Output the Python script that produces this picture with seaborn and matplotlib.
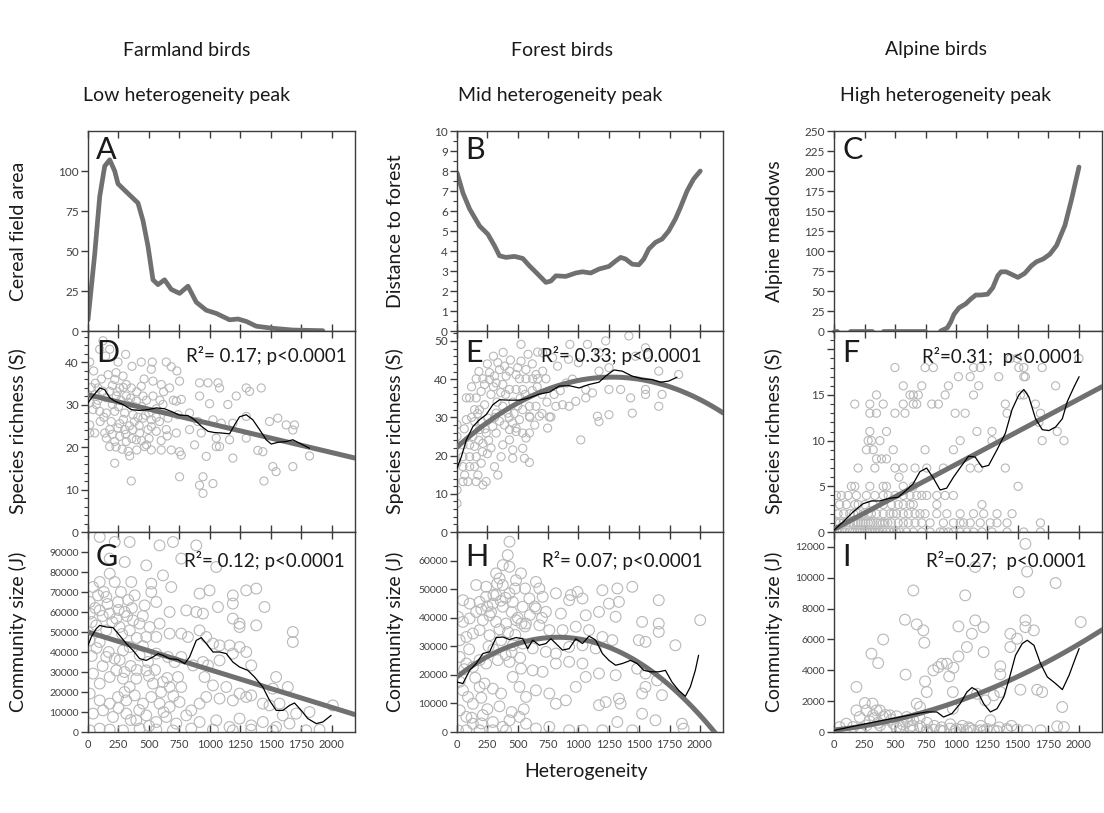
import numpy as np
import matplotlib
matplotlib.use("Agg")
import matplotlib.pyplot as plt
import seaborn as sns
from matplotlib.ticker import MultipleLocator, FixedLocator

# ---------------- data ----------------
col_titles = ["Farmland birds", "Forest birds", "Alpine birds"]
col_subtitles = ["Low heterogeneity peak", "Mid heterogeneity peak", "High heterogeneity peak"]
panel_letters = ["A", "B", "C", "D", "E", "F", "G", "H", "I"]
top_ylabels = ["Cereal field area", "Distance to forest", "Alpine meadows"]
stats = ["R\u00b2= 0.17; p<0.0001", "R\u00b2= 0.33; p<0.0001", "R\u00b2=0.31;  p<0.0001",
         "R\u00b2= 0.12; p<0.0001", "R\u00b2= 0.07; p<0.0001", "R\u00b2=0.27;  p<0.0001"]
xticks = [0, 250, 500, 750, 1000, 1250, 1500, 1750, 2000]

# Panel A: cereal field area
A_x = [0, 55, 96, 137, 178, 219, 246, 300, 355, 410, 451, 492, 533, 574, 628, 683, 751, 820,
       888, 970, 1052, 1161, 1230, 1298, 1380, 1516, 1680, 1926]
A_y = [7, 48, 84, 103, 107, 100, 92, 88, 84, 80, 69, 53, 32, 29, 32, 26, 23.5, 28,
       18, 13, 11, 7, 7.5, 6, 3, 1.7, 0.6, 0.2]

# Panel B: distance to forest
B_x = [0, 49, 104, 186, 254, 309, 350, 404, 473, 541, 596, 664, 732, 773, 814, 896, 978, 1033,
       1101, 1170, 1251, 1306, 1347, 1388, 1443, 1497, 1538, 1579, 1634, 1689, 1743, 1798, 1839,
       1894, 1948, 2003]
B_y = [7.92, 6.9, 6.1, 5.25, 4.84, 4.26, 3.76, 3.68, 3.73, 3.63, 3.26, 2.85, 2.43, 2.5, 2.76,
       2.73, 2.9, 2.96, 2.9, 3.1, 3.23, 3.5, 3.68, 3.6, 3.34, 3.31, 3.6, 4.1, 4.43, 4.6, 5.0,
       5.6, 6.17, 7.0, 7.6, 8.0]

# Panel C: alpine meadows (gaps where no data)
C_x = [0, 25, 129, 308, 404, 747, 871, 926, 953, 981, 1022, 1077, 1118, 1159, 1200, 1255,
       1297, 1338, 1365, 1407, 1462, 1503, 1558, 1613, 1654, 1709, 1764, 1819, 1887, 1942, 2002]
C_y = [0, 0, 0, 0, 0, 0, 0, 4, 11, 21, 29, 34, 40, 45, 45, 46,
       54, 69, 74, 74, 70, 67, 72, 81.5, 86.5, 90, 96, 107, 132, 165, 205]
C_seg = [0, 0, 1, 1, 2, 2, 3, 3, 3, 3, 3, 3, 3, 3, 3, 3,
         3, 3, 3, 3, 3, 3, 3, 3, 3, 3, 3, 3, 3, 3, 3]

# Panel D: farmland species richness
D_pts = [(14, 40), (46, 37.9), (96, 43), (123, 45), (178, 43), (145, 41.4), (309, 41.8), (246, 40),
         (437, 40), (527, 40), (642, 40), (683, 38.9), (729, 37.9), (519, 38.3), (361, 39),
         (287, 36.7), (219, 35.9), (82, 33.9), (55, 32.3), (123, 33.1), (178, 33.1), (259, 33.9),
         (314, 34.7), (355, 33.9), (437, 34.3), (533, 35.5), (601, 34.7), (669, 33.9), (751, 35.5),
         (915, 35.1), (984, 35.1), (1066, 35.1), (1079, 33.9), (1298, 33.9), (1325, 33.1),
         (1421, 33.9), (1216, 32.0), (1147, 30), (997, 30.2), (915, 32), (765, 31.2), (724, 30.8),
         (615, 30), (533, 32), (451, 32), (396, 30.8), (314, 32), (232, 32), (150, 31.6), (68, 30),
         (14, 30.4), (41, 28.8), (96, 28.4), (150, 28), (219, 28.4), (301, 28), (369, 27.6),
         (451, 26.8), (519, 26.4), (587, 26), (656, 26.8), (738, 27.6), (833, 28), (902, 26),
         (1025, 26.4), (1093, 25.6), (1188, 25.6), (1298, 27.2), (1489, 26), (1557, 26.8),
         (1626, 25.2), (1680, 24), (1694, 25.2), (14, 25.2), (55, 23.3), (137, 23.3), (178, 24.1),
         (246, 24.5), (301, 24.1), (369, 24.1), (423, 23.3), (492, 24.1), (560, 23.7), (642, 24.1),
         (724, 23.3), (833, 24.1), (929, 23.3), (1052, 22.1), (1161, 21.7), (1298, 22.1),
         (14, 23.3), (150, 22.1), (219, 21.3), (314, 21.3), (396, 21.7), (464, 20.1), (519, 19.3),
         (601, 19.3), (683, 19.3), (751, 18.9), (765, 18.1), (874, 20.5), (970, 17.8), (1052, 20.1),
         (1079, 20.1), (1188, 17.4), (1393, 19.2), (1434, 18.9), (1817, 17.9), (178, 20.1),
         (342, 17.9), (219, 16.2), (1516, 15.4), (1543, 14.2), (1680, 15.4), (751, 13), (355, 12),
         (943, 13), (1025, 11.4), (915, 11), (1443, 12), (943, 9.1),
         (28, 34), (60, 35), (110, 36), (165, 37), (200, 34.5), (240, 33), (270, 31), (330, 30.5),
         (380, 29.5), (410, 27), (440, 29.5), (480, 31), (500, 28), (560, 29), (590, 31), (620, 33),
         (700, 31), (100, 26), (130, 27), (190, 26), (260, 25.5), (290, 26.5), (340, 25), (380, 26),
         (420, 25), (470, 27.5), (520, 24.8), (560, 27), (200, 23), (260, 22.5), (310, 23),
         (360, 22), (440, 21.5), (500, 22), (600, 21.5), (650, 22.6), (230, 20), (280, 19.5),
         (330, 19), (400, 19.3), (480, 20.5), (80, 31), (200, 30), (250, 29.5), (350, 31.5),
         (290, 34), (230, 37.5), (400, 33), (460, 36)]
D_fit_x = [0, 2190]
D_fit_y = [32.3, 17.4]
D_smooth_x = [0, 41, 96, 137, 178, 219, 287, 355, 423, 492, 560, 628, 697, 751, 820, 874, 929,
              984, 1038, 1093, 1161, 1202, 1243, 1298, 1352, 1407, 1462, 1503, 1557, 1626, 1680,
              1735, 1817]
D_smooth_y = [30.4, 32, 33.9, 33.5, 31.6, 30.8, 30, 28.8, 28.6, 28.8, 29.2, 29, 28.2, 27.5, 27.4,
              26.4, 24.9, 23.7, 23.4, 23.3, 23.1, 25.2, 27.1, 27.6, 26.4, 24.1, 21.7, 20.7, 21.1,
              21.3, 21.7, 20.9, 19.7]

# Panel E: forest species richness
E_pts = [(0, 28.1), (0, 25), (0, 22.8), (0, 18), (0, 11), (0, 7.5), (49, 22.8), (49, 19.7),
         (49, 17.1), (63, 14.9), (49, 13.2), (90, 13.2), (104, 17.1), (104, 19.7), (77, 29.4),
         (77, 35.1), (104, 35.1), (158, 35.1), (145, 32), (186, 32), (145, 28.9), (186, 26.8),
         (131, 25), (104, 22.8), (145, 22.4), (158, 19.7), (145, 17.1), (199, 18), (158, 13.2),
         (213, 12.3), (240, 13.2), (172, 14.9), (213, 23.2), (240, 25.9), (254, 29.8), (227, 33.3),
         (199, 36.8), (158, 40.1), (213, 40.1), (227, 38.6), (268, 39.9), (268, 41.7), (309, 40.8),
         (350, 42.5), (336, 44.3), (391, 43.4), (432, 42.1), (404, 40.8), (322, 39), (377, 38.6),
         (432, 37.3), (486, 37.3), (541, 37.3), (514, 40.1), (568, 40.1), (623, 40.1), (664, 40.1),
         (732, 40.1), (486, 41.2), (527, 44.7), (568, 42.5), (650, 41.2), (705, 42.1), (527, 49.1),
         (585, 46.5), (664, 47.1), (705, 46.9), (787, 45.6), (828, 43.4), (918, 45.2), (929, 49.1),
         (1000, 44.3), (1074, 49.1), (1169, 46.9), (1169, 42.1), (1224, 50), (1251, 43),
         (1251, 37.3), (1415, 51.3), (1470, 46), (1552, 48.2), (1565, 46.5), (1552, 37.3),
         (1552, 36), (1661, 42.1), (1688, 36), (1661, 32.9), (1825, 41.2), (1429, 35.1),
         (1443, 31.1), (1347, 37.3), (1251, 30.7), (1156, 30.3), (1169, 28.9), (1060, 35.1),
         (1060, 37.3), (978, 34.2), (923, 32.9), (869, 33.3), (814, 32.9), (760, 30.1), (773, 30.1),
         (746, 27.2), (678, 30.3), (650, 32.9), (596, 32.9), (596, 30.3), (541, 32), (514, 29.4),
         (486, 27.2), (541, 25.9), (596, 25.9), (568, 24.6), (541, 21.9), (486, 26.3), (459, 28.5),
         (432, 26.8), (418, 31.1), (377, 32.9), (322, 31.1), (295, 27.6), (322, 25.9), (377, 22.8),
         (432, 24.1), (363, 19.7), (459, 21.5), (459, 19.3), (555, 19.3), (596, 18.2), (309, 17.1),
         (336, 14.9), (1019, 24.1), (1115, 36.4),
         (60, 27), (120, 30), (170, 31), (200, 29), (230, 27), (260, 24), (280, 36), (300, 38),
         (330, 34), (360, 36.5), (400, 36), (460, 34), (520, 35), (560, 36), (620, 37), (660, 38),
         (700, 36), (740, 34), (800, 36), (850, 37), (900, 39), (950, 40), (180, 24), (210, 21),
         (250, 20.5), (280, 22), (310, 30), (350, 29), (390, 28), (430, 30), (470, 31), (500, 33),
         (600, 30), (640, 28), (700, 31), (120, 38), (180, 42), (250, 44), (300, 46), (380, 47),
         (440, 45), (500, 43), (620, 44)]
E_fit_x = [0, 240, 514, 787, 1060, 1306, 1606, 1880, 2190]
E_fit_y = [22.8, 27.6, 33.8, 38.2, 40.1, 40.4, 39.5, 36.4, 31.1]
E_smooth_x = [0, 36, 77, 131, 186, 240, 295, 350, 432, 514, 596, 678, 760, 842, 923, 1005, 1087,
              1169, 1224, 1292, 1360, 1442, 1524, 1606, 1675, 1743, 1811]
E_smooth_y = [16.7, 19.7, 24.1, 27.6, 29.4, 30.7, 33.3, 34.6, 34.5, 34.5, 35.1, 36.1, 36.6, 38.2,
              38.3, 37.7, 38.6, 39.2, 40.8, 42.4, 42.1, 40.8, 40.1, 39.9, 39.2, 39.5, 40.5]

# Panel F: alpine species richness (integer counts)
F_x = [46, 88, 129, 170, 211, 252, 293, 334, 375, 429, 484, 539, 593, 648, 717, 785, 867, 894, 935,
       976, 1031, 1086, 1140, 1209, 1291, 1414, 1551, 1687, 25, 66, 150, 190, 230, 270, 312, 355,
       400, 455, 510,
       19, 46, 101, 156, 197, 238, 279, 320, 375, 416, 470, 525, 566, 607, 662, 717, 785, 894, 976,
       1031, 1058, 1113, 1195, 1277, 1332, 1414, 1687, 75, 130, 180, 220, 260, 300, 350, 395, 440,
       33, 129, 197, 238, 306, 347, 402, 457, 484, 511, 566, 607, 662, 703, 744, 840, 922, 1031,
       1140, 1223, 1332, 1455, 80, 160, 280,
       46, 101, 170, 197, 252, 320, 402, 470, 525, 566, 621, 648, 840, 1209,
       19, 60, 115, 183, 265, 334, 402, 443, 498, 566, 621, 676, 717, 758, 840, 908, 976,
       142, 170, 293, 402, 429, 566, 648, 1504,
       531,
       197, 334, 498, 566, 662, 758, 894, 1113, 1182, 1400,
       347, 388, 429,
       265, 320, 484, 744, 976,
       279, 306, 375, 1031, 1291, 1701, 1879,
       293, 429, 1168, 1291, 1824,
       1674,
       293, 347, 498, 580, 990, 1072, 1414, 1687,
       170, 293, 402, 566, 648, 676, 799, 853, 1400, 1646,
       347, 621, 648, 689, 908, 1140, 1523, 1551,
       566, 717, 935, 1182, 1811,
       1017, 1113, 1346, 1551, 1564,
       498, 744, 812, 1140, 1195, 1510, 1551, 1701,
       1441, 1496, 2002]
F_y = ([0] * 39 + [1] * 36 + [2] * 25 + [3] * 14 + [4] * 17 + [5] * 8 + [6] * 1 + [7] * 10
       + [8] * 3 + [9] * 5 + [10] * 7 + [11] * 5 + [12] * 1 + [13] * 8 + [14] * 10 + [15] * 8
       + [16] * 5 + [17] * 5 + [18] * 8 + [19] * 3)
F_fit_x = [0, 2190]
F_fit_y = [0.3, 15.9]
F_smooth_x = [0, 74, 156, 238, 306, 374, 456, 525, 593, 648, 702, 757, 812, 867, 921, 976, 1045,
              1100, 1154, 1209, 1264, 1332, 1400, 1455, 1510, 1551, 1592, 1647, 1702, 1756, 1811,
              1866, 1907, 1962, 2003]
F_smooth_y = [0.2, 1.1, 2.2, 3.1, 3.4, 3.4, 3.7, 3.8, 4.6, 5.3, 6.6, 7.0, 5.9, 4.6, 4.8, 6.0, 7.3,
              8.3, 8.2, 7.1, 7.3, 9.0, 10.8, 13.4, 15.0, 15.6, 14.8, 12.4, 11.2, 11.1, 11.5, 12.4,
              14.3, 15.9, 17.0]

# Panel G: farmland community size
G_pts = [(96, 97500), (219, 95000), (342, 95000), (697, 95000), (888, 93300), (587, 93300),
         (178, 86700), (301, 85000), (478, 83300), (765, 86700), (1052, 82500), (615, 78300),
         (178, 79200), (96, 75000), (41, 72500), (219, 75000), (355, 75000), (519, 74200),
         (519, 70000), (683, 72500), (997, 70800), (1298, 70800), (1380, 71700), (1188, 68300),
         (915, 69200), (383, 68300), (82, 68300), (150, 67500), (246, 65000), (14, 65000),
         (464, 63300), (560, 65000), (1188, 64200), (669, 60000), (806, 60800), (888, 60000),
         (943, 59200), (1066, 62500), (1188, 56700), (1243, 54200), (1243, 52500), (1448, 62500),
         (1380, 53300), (1680, 50000), (1680, 45000), (14, 59200), (96, 60800), (178, 59200),
         (232, 56700), (301, 60000), (369, 55800), (68, 53300), (150, 50800), (259, 52500),
         (342, 50800), (423, 54200), (505, 52500), (587, 54200), (478, 47500), (560, 47500),
         (669, 49200), (765, 49200), (820, 47500), (915, 50800), (970, 47500), (1025, 44200),
         (1079, 43300), (1161, 43300), (1243, 42500), (1298, 40000), (14, 45800), (96, 45000),
         (150, 37500), (219, 36700), (287, 40800), (342, 42500), (423, 38300), (492, 35000),
         (560, 39200), (656, 37500), (710, 35000), (765, 37500), (861, 33300), (943, 35000),
         (984, 33300), (1079, 35800), (1188, 39200), (1339, 33300), (41, 29200), (96, 24200),
         (178, 27500), (232, 30800), (287, 26700), (342, 22500), (396, 26700), (478, 30800),
         (533, 24200), (615, 25000), (669, 22500), (738, 27500), (765, 22500), (956, 27500),
         (1025, 23300), (1134, 22500), (1243, 19200), (1339, 18300), (1543, 27500), (1516, 21700),
         (1639, 22500), (1571, 14200), (14, 19200), (96, 15800), (178, 14200), (246, 17500),
         (314, 15800), (383, 18300), (451, 14200), (519, 17500), (587, 14200), (669, 12500),
         (751, 15000), (847, 10800), (915, 14200), (970, 17500), (1079, 16700), (1188, 15800),
         (1298, 17500), (1434, 14200), (1489, 13300), (1598, 8300), (1707, 9200), (1817, 10000),
         (2008, 13300), (41, 9200), (123, 10800), (205, 7500), (314, 9200), (396, 5800),
         (478, 8300), (560, 5000), (642, 7500), (724, 4200), (806, 8300), (915, 5000),
         (1052, 5800), (1161, 2500), (1243, 6700), (1339, 3300), (1434, 5000), (1543, 2500),
         (1653, 4200), (1789, 800), (1899, 1200), (14, 800), (96, 1700), (178, 1200), (287, 800),
         (423, 1700), (560, 1200), (697, 800), (847, 1700), (1025, 1200), (1188, 800),
         (1339, 1200), (1516, 800),
         (30, 55000), (60, 62000), (120, 58000), (160, 64000), (200, 55000), (250, 61000),
         (280, 49000), (320, 58000), (360, 62000), (400, 47000), (450, 58000), (30, 38000),
         (70, 42000), (120, 33000), (170, 40000), (260, 36000), (300, 30000), (350, 33000),
         (400, 31000), (450, 43000), (500, 28000), (550, 31000), (600, 20000), (650, 27000),
         (700, 18000), (250, 12000), (300, 20000), (350, 6000), (420, 11000), (500, 3000),
         (620, 10000), (130, 70000), (270, 70000), (330, 66000)]
G_fit_x = [0, 2190]
G_fit_y = [50000, 8700]
G_smooth_x = [0, 27, 68, 96, 150, 205, 259, 314, 369, 423, 478, 533, 574, 615, 669, 738, 793, 833,
              888, 929, 970, 1025, 1079, 1134, 1188, 1243, 1311, 1366, 1434, 1489, 1544, 1598, 1653,
              1694, 1749, 1803, 1872, 1926, 1994]
G_smooth_y = [43300, 47500, 51700, 53300, 52500, 52200, 48300, 44200, 40800, 36700, 35800, 37500,
              39200, 38300, 36700, 36200, 34200, 37500, 45800, 47200, 44200, 40000, 40000, 39200,
              35000, 32500, 30800, 27500, 22500, 15800, 10800, 10800, 13300, 14500, 10800, 6700,
              4200, 5000, 8300]

# Panel H: forest community size
H_pts = [(432, 66700), (418, 62000), (377, 58500), (432, 57900), (322, 55600), (527, 55600),
         (350, 53800), (486, 53200), (377, 51500), (158, 51500), (240, 50900), (478, 50300),
         (560, 50300), (650, 52600), (678, 50300), (814, 48600), (937, 48000), (992, 49100),
         (1197, 49700), (1320, 50300), (1443, 50900), (1661, 46200), (1333, 45600), (1033, 46800),
         (923, 46200), (705, 47400), (596, 46800), (432, 48600), (322, 48000), (240, 47400),
         (186, 45600), (104, 45000), (49, 46200), (295, 45000), (377, 43900), (459, 45600),
         (541, 43900), (650, 43300), (732, 42100), (855, 41500), (1060, 40900), (1169, 42100),
         (1251, 45000), (1306, 40400), (1524, 38600), (1661, 38000), (1661, 35100), (2002, 39200),
         (8, 40400), (49, 38600), (104, 39800), (158, 42100), (213, 39200), (268, 40900),
         (322, 38600), (404, 38000), (486, 39200), (568, 38000), (678, 37400), (760, 35700),
         (869, 35700), (978, 36900), (1087, 35700), (1197, 33300), (1279, 32200), (1497, 32200),
         (1552, 31600), (1798, 30400), (22, 32200), (77, 33300), (131, 34500), (186, 35700),
         (268, 33900), (363, 32200), (459, 30400), (541, 31000), (623, 29300), (732, 28100),
         (814, 27500), (923, 29800), (1033, 30400), (1142, 29300), (22, 26300), (77, 24000),
         (131, 22800), (186, 25200), (240, 24000), (336, 25200), (432, 24600), (527, 22200),
         (623, 21600), (705, 21100), (814, 24000), (923, 24600), (1033, 24000), (1169, 20500),
         (1306, 19900), (1483, 22200), (1552, 20500), (1647, 18100), (22, 17600), (49, 14600),
         (90, 12300), (131, 9900), (186, 15800), (227, 17000), (295, 15200), (363, 13500),
         (459, 19300), (514, 15800), (568, 12300), (650, 14600), (760, 13500), (814, 9900),
         (896, 11100), (978, 15800), (1060, 19300), (1169, 9400), (1224, 10500), (1333, 11700),
         (1347, 9900), (1524, 13500), (1552, 15800), (1688, 12900), (22, 7600), (77, 5300),
         (131, 2900), (213, 5900), (295, 3500), (377, 1800), (432, 4100), (514, 5300), (568, 2900),
         (650, 1200), (760, 1800), (923, 600), (1033, 600), (1197, 600), (1320, 3500), (1443, 600),
         (1524, 6400), (1634, 4100), (1852, 2900), (1866, 1200), (8, 600), (77, 600), (186, 600),
         (295, 600), (404, 600),
         (200, 43000), (250, 44000), (280, 42000), (300, 48000), (330, 52000), (360, 46000),
         (400, 47000), (450, 42000), (500, 40000), (530, 38000), (350, 36000), (420, 35000),
         (480, 34000), (560, 37000), (600, 41000), (640, 44000), (700, 40000), (260, 30000),
         (300, 29000), (400, 27000), (450, 28000), (520, 26000), (100, 29000), (60, 22000),
         (150, 19000), (200, 12000), (250, 8000), (350, 9000), (450, 7000), (550, 8000),
         (120, 5000), (200, 3000)]
H_fit_x = [0, 240, 514, 814, 1060, 1333, 1606, 1880, 2126]
H_fit_y = [19900, 25700, 30400, 33300, 32700, 28700, 21100, 10500, 0]
H_smooth_x = [0, 49, 104, 158, 213, 268, 322, 377, 432, 486, 541, 582, 623, 678, 732, 773, 814,
              869, 923, 978, 1033, 1087, 1142, 1197, 1251, 1306, 1361, 1429, 1483, 1538, 1593,
              1661, 1716, 1770, 1825, 1880, 1921, 1962, 1989]
H_smooth_y = [17500, 17000, 21600, 24000, 27500, 28100, 33100, 33300, 32400, 33100, 32700, 29200,
              32200, 30400, 31000, 32700, 31000, 28700, 29200, 32700, 31000, 33600, 32200, 27500,
              25100, 23400, 24000, 25100, 24000, 21600, 21100, 21100, 21600, 17500, 14600, 12500,
              15800, 21600, 26900]

# Panel I: alpine community size
I_pts = [(1564, 12200), (1154, 10700), (1578, 10400), (1072, 8860), (648, 9180), (1811, 9660),
         (1510, 9070), (580, 7280), (676, 6980), (730, 6590), (1154, 7240), (1222, 6800),
         (1017, 6850), (1127, 6370), (1564, 7240), (1564, 6800), (1633, 6590), (2016, 7130),
         (1441, 6370), (1496, 6050), (1441, 5510), (1086, 5510), (1017, 4900), (1222, 5180),
         (402, 6000), (306, 5080), (361, 4470), (585, 3720), (738, 5790), (881, 4430), (922, 4430),
         (976, 4170), (853, 4210), (812, 4000), (941, 3610), (1359, 4260), (1359, 3740),
         (744, 3280), (758, 2590), (971, 2590), (1168, 2480), (1305, 2380), (1359, 2590),
         (1523, 2740), (1660, 2740), (1701, 2590), (1865, 1620), (971, 1510), (1236, 2050),
         (676, 1840), (703, 1620), (252, 1880), (315, 1840), (265, 1400), (347, 1400), (375, 1400),
         (320, 1080), (402, 970), (457, 1080), (511, 1020), (594, 970), (648, 760), (183, 2920),
         (183, 1400), (210, 970), (101, 540), (46, 320), (156, 320), (265, 430), (375, 430),
         (484, 540), (539, 320), (621, 320), (703, 370), (758, 150), (867, 110), (949, 220),
         (1031, 150), (1113, 220), (1195, 110), (1277, 760), (1305, 110), (1414, 110), (1496, 150),
         (1578, 110), (1688, 110), (1824, 370), (1879, 320), (429, 110), (539, 60), (648, 110),
         (758, 20), (812, 150), (894, 60), (990, 60), (1086, 60), (1140, 110), (1222, 60),
         (1332, 60), (1414, 200),
         (220, 200), (290, 700), (330, 900), (360, 600), (420, 1100), (470, 800), (510, 300),
         (560, 500), (600, 700), (640, 400), (700, 900), (760, 600), (820, 400), (880, 300),
         (950, 500), (1000, 200), (1050, 400), (1100, 300), (1200, 400), (1250, 200), (1350, 300),
         (1450, 400)]
I_fit_x = [0, 320, 594, 867, 1141, 1414, 1688, 1962, 2190]
I_fit_y = [100, 540, 970, 1620, 2380, 3240, 4320, 5510, 6640]
I_smooth_x = [0, 129, 265, 402, 539, 676, 758, 840, 895, 963, 1031, 1086, 1127, 1168, 1223, 1278,
              1332, 1387, 1428, 1483, 1538, 1579, 1634, 1688, 1743, 1811, 1866, 1921, 1976, 2003]
I_smooth_y = [100, 320, 540, 760, 970, 1190, 1300, 1300, 970, 1190, 1840, 2590, 2880, 2700, 1840,
              1300, 1510, 2270, 3350, 4970, 5730, 5950, 5620, 4430, 3570, 3140, 2750, 3680, 4860,
              5410]

# ---------------- style ----------------
sns.set_theme(style="ticks")
plt.rcParams["font.family"] = ["Lato", "DejaVu Sans"]
plt.rcParams["axes.linewidth"] = 1.0
plt.rcParams["axes.edgecolor"] = "#3c3c3c"

LINE_GREY = "#707070"
PT_GREY = "#b8b8b8"
TICK_COL = "#404040"

W, H = 1104, 813
fig = plt.figure(figsize=(W / 100, H / 100), dpi=100)
fig.patch.set_facecolor("white")
lefts = [88, 457, 834]
widths = [267, 266, 268]
tops = [131, 331, 532]
heights = [200, 201, 200]
axes = [[fig.add_axes([l / W, 1 - (t + h) / H, w / W, h / H]) for l, w in zip(lefts, widths)]
        for t, h in zip(tops, heights)]
XMAX = 2190

for r in range(3):
    for c in range(3):
        ax = axes[r][c]
        ax.set_xlim(0, XMAX)
        ax.set_facecolor("white")

# ---- top row ----
aA, aB, aC = axes[0]
sns.lineplot(x=A_x, y=A_y, ax=aA, color=LINE_GREY, lw=3.4, sort=False, estimator=None)
sns.lineplot(x=B_x, y=B_y, ax=aB, color=LINE_GREY, lw=3.4, sort=False, estimator=None)
sns.lineplot(x=C_x, y=C_y, units=C_seg, ax=aC, color=LINE_GREY, lw=3.4, sort=False,
             estimator=None, clip_on=False, zorder=5)

# ---- scatter rows ----
def scat(ax, x, y, s):
    sns.scatterplot(x=x, y=y, ax=ax, marker="o", s=s, facecolor="none", edgecolor=PT_GREY,
                    linewidth=0.8, zorder=1)

def smooth(ax, x, y):
    sns.lineplot(x=x, y=y, ax=ax, color="black", lw=0.9, sort=False, estimator=None, zorder=4)

def lin_fit(ax, x, y):
    sns.lineplot(x=x, y=y, ax=ax, color=LINE_GREY, lw=3.6, sort=False, estimator=None, zorder=3)

def quad_fit(ax, x, y):
    ax.set_xlim(0, XMAX)
    sns.regplot(x=np.array(x, float), y=np.array(y, float), ax=ax, order=2, ci=None,
                scatter=False, truncate=False, line_kws=dict(color=LINE_GREY, lw=3.6, zorder=3))

aD, aE, aF = axes[1]
aG, aH, aI = axes[2]

Dx, Dy = zip(*D_pts)
scat(aD, list(Dx), list(Dy), 34)
lin_fit(aD, D_fit_x, D_fit_y)
smooth(aD, D_smooth_x, D_smooth_y)

Ex, Ey = zip(*E_pts)
scat(aE, list(Ex), list(Ey), 34)
quad_fit(aE, E_fit_x, E_fit_y)
smooth(aE, E_smooth_x, E_smooth_y)

scat(aF, F_x, F_y, 34)
lin_fit(aF, F_fit_x, F_fit_y)
smooth(aF, F_smooth_x, F_smooth_y)

Gx, Gy = zip(*G_pts)
scat(aG, list(Gx), list(Gy), 60)
lin_fit(aG, G_fit_x, G_fit_y)
smooth(aG, G_smooth_x, G_smooth_y)

Hx, Hy = zip(*H_pts)
scat(aH, list(Hx), list(Hy), 60)
quad_fit(aH, H_fit_x, H_fit_y)
smooth(aH, H_smooth_x, H_smooth_y)

Ix, Iy = zip(*I_pts)
scat(aI, list(Ix), list(Iy), 60)
quad_fit(aI, I_fit_x, I_fit_y)
smooth(aI, I_smooth_x, I_smooth_y)

# ---- axes limits / ticks ----
ylims = [(0, 125), (0, 10), (0, 250), (0, 47.3), (0, 52.6), (0, 22), (0, 100000), (0, 70100),
         (0, 12970)]
yticks = [[0, 25, 50, 75, 100], list(range(0, 11)), list(range(0, 251, 25)),
          [0, 10, 20, 30, 40], [0, 10, 20, 30, 40, 50], [0, 5, 10, 15, 20],
          list(range(0, 90001, 10000)), list(range(0, 60001, 10000)), list(range(0, 12001, 2000))]
yminor = [None, 0.5, None, 2, 2, 1, None, None, None]
ylabels = top_ylabels + ["Species richness (S)"] * 3 + ["Community size (J)"] * 3
label_x = [-0.23, -0.2, -0.19]

for i in range(9):
    r, c = divmod(i, 3)
    ax = axes[r][c]
    ax.set_xlim(0, XMAX)
    ax.set_ylim(*ylims[i])
    ax.yaxis.set_major_locator(FixedLocator(yticks[i]))
    if yminor[i]:
        ax.yaxis.set_minor_locator(MultipleLocator(yminor[i]))
    ax.xaxis.set_major_locator(FixedLocator(xticks))
    ax.tick_params(axis="x", which="major", top=True, bottom=True, direction="in", length=5,
                   width=1.0, color="#3c3c3c", labelsize=8, labelcolor=TICK_COL, pad=5)
    ax.tick_params(axis="y", which="major", left=True, direction="out", length=5, width=1.0,
                   color="#3c3c3c", labelsize=8.5 if r < 2 else 7.5, labelcolor=TICK_COL, pad=1.5)
    ax.tick_params(axis="y", which="minor", left=True, direction="out", length=3, width=0.8,
                   color="#3c3c3c")
    if r < 2:
        ax.tick_params(axis="x", labelbottom=False)
    if i == 5:
        ax.set_yticklabels(["0", "5", "10", "15", ""])
    for sp in ax.spines.values():
        sp.set_visible(True)
        sp.set_color("#3c3c3c")
        sp.set_linewidth(1.0)
    ax.set_xlabel("")
    ax.set_ylabel(ylabels[i], fontsize=14, color="#1a1a1a")
    ax.yaxis.set_label_coords(label_x[c], 0.5)
    # panel letter
    base = 0.86 if r == 0 else (0.845 if r == 1 else 0.83)
    ax.text(0.03, base, panel_letters[i], transform=ax.transAxes, ha="left", va="baseline",
            fontsize=22, color="#1a1a1a", zorder=6)

stat_pos = [(0.97, 0.846), (0.92, 0.846), (0.93, 0.84), (0.963, 0.826), (0.925, 0.826),
            (0.944, 0.826)]
for k, ax in enumerate([aD, aE, aF, aG, aH, aI]):
    ax.text(stat_pos[k][0], stat_pos[k][1], stats[k], transform=ax.transAxes, ha="right",
            va="baseline", fontsize=13.5, color="#1a1a1a", zorder=6)

# ---- column titles and x label ----
title_cx = [187, 562, 936]
sub_cx = [187, 560, 946]
for c in range(3):
    fig.text(title_cx[c] / W, 1 - 50 / H, col_titles[c], ha="center", va="center", fontsize=14,
             color="#1a1a1a")
    fig.text(sub_cx[c] / W, 1 - 95 / H, col_subtitles[c], ha="center", va="center", fontsize=14,
             color="#1a1a1a")
fig.text(586 / W, 1 - 771 / H, "Heterogeneity", ha="center", va="center", fontsize=14,
         color="#1a1a1a")

fig.savefig("out.png", dpi=100, facecolor="white")
